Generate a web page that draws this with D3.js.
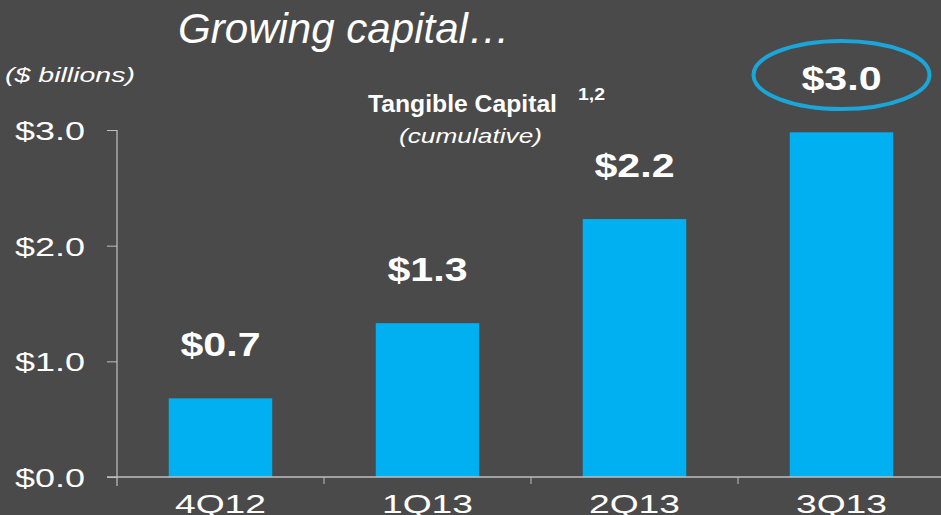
<!DOCTYPE html>
<html>
<head>
<meta charset="utf-8">
<script src="https://cdn.jsdelivr.net/npm/d3@7"></script>
<style>
  html, body { margin: 0; padding: 0; background: #4a4a4a; overflow: hidden; }
  svg { display: block; font-family: "Liberation Sans", Arial, sans-serif; }
</style>
</head>
<body>
<svg id="chart" width="941" height="515"></svg>
<script>
const quarters = ['4Q12', '1Q13', '2Q13', '3Q13'];
const capital = [0.68, 1.33, 2.23, 2.98];
const labels = ['$0.7', '$1.3', '$2.2', '$3.0'];
const yTicks = [0, 1, 2, 3];

const svg = d3.select('#chart');
const W = 941, H = 515;

svg.append('rect').attr('width', W).attr('height', H).attr('fill', '#4a4a4a');

const x = d3.scaleBand()
  .domain(quarters)
  .range([117, 945])
  .paddingInner(0.5)
  .paddingOuter(0.25);

const y = d3.scaleLinear()
  .domain([0, 3])
  .range([477, 130]);

// the slide text is stretched sideways, so widths are forced with textLength
const stretch = (sel, len) => sel.attr('textLength', len).attr('lengthAdjust', 'spacingAndGlyphs');

// y axis
const yAxis = svg.append('g')
  .attr('transform', 'translate(117,0)')
  .call(d3.axisLeft(y).tickValues(yTicks).tickSize(10).tickFormat(d => '$' + d.toFixed(1)));
yAxis.select('.domain').attr('stroke', '#d9d9d9').attr('d', `M0,${y(3)}V${y(0) + 9}`);
yAxis.selectAll('.tick line').attr('stroke', '#bfbfbf');
yAxis.selectAll('.tick text')
  .attr('fill', '#fff')
  .attr('font-size', 26)
  .attr('font-family', '"Liberation Sans", Arial, sans-serif')
  .attr('x', -32)
  .attr('dy', '0.36em')
  .call(stretch, 70);

// bars
svg.append('g').selectAll('rect')
  .data(quarters)
  .join('rect')
    .attr('x', d => x(d))
    .attr('width', x.bandwidth())
    .attr('y', (d, i) => y(capital[i]))
    .attr('height', (d, i) => y(0) - y(capital[i]))
    .attr('fill', '#00b0f0');

// x axis
const gap = (x.step() - x.bandwidth()) / 2;
const xAxis = svg.append('g').attr('transform', `translate(0,${y(0)})`);
xAxis.append('line')
  .attr('x1', 107).attr('x2', W)
  .attr('stroke', '#bfbfbf').attr('stroke-width', 1.5);
xAxis.selectAll('line.tk')
  .data(quarters.slice(1))
  .join('line')
    .attr('class', 'tk')
    .attr('x1', d => x(d) - gap)
    .attr('x2', d => x(d) - gap)
    .attr('y1', 0).attr('y2', 7)
    .attr('stroke', '#bfbfbf');
xAxis.selectAll('text')
  .data(quarters)
  .join('text')
    .attr('x', d => x(d) + x.bandwidth() / 2)
    .attr('y', 36)
    .attr('text-anchor', 'middle')
    .attr('fill', '#fff')
    .attr('font-size', 26)
    .text(d => d)
    .call(stretch, 91);

// value labels
svg.append('g').selectAll('text')
  .data(quarters)
  .join('text')
    .attr('x', d => x(d) + x.bandwidth() / 2)
    .attr('y', (d, i) => y(capital[i]) - 42)
    .attr('text-anchor', 'middle')
    .attr('fill', '#fff')
    .attr('font-weight', 'bold')
    .attr('font-size', 33)
    .text((d, i) => labels[i])
    .call(stretch, 80);

// highlight ellipse on last label
const last = quarters[quarters.length - 1];
svg.append('ellipse')
  .attr('cx', x(last) + x.bandwidth() / 2)
  .attr('cy', 75)
  .attr('rx', 88)
  .attr('ry', 34)
  .attr('fill', 'none')
  .attr('stroke', '#1ba6da')
  .attr('stroke-width', 4);

// titles
svg.append('text')
  .attr('x', 178).attr('y', 43)
  .attr('fill', '#fff')
  .attr('font-size', 42)
  .attr('font-style', 'italic')
  .text('Growing capital…')
  .call(stretch, 332);

svg.append('text')
  .attr('x', 5).attr('y', 82)
  .attr('fill', '#fff')
  .attr('font-size', 20)
  .attr('font-style', 'italic')
  .text('($ billions)')
  .call(stretch, 130);

svg.append('text')
  .attr('x', 368).attr('y', 112)
  .attr('fill', '#fff')
  .attr('font-size', 23)
  .attr('font-weight', 'bold')
  .text('Tangible Capital')
  .call(stretch, 189);

svg.append('text')
  .attr('x', 578).attr('y', 100)
  .attr('fill', '#fff')
  .attr('font-size', 16)
  .attr('font-weight', 'bold')
  .text('1,2')
  .call(stretch, 27);

svg.append('text')
  .attr('x', 399).attr('y', 143)
  .attr('fill', '#fff')
  .attr('font-size', 21)
  .attr('font-style', 'italic')
  .text('(cumulative)')
  .call(stretch, 143);
</script>
</body>
</html>
